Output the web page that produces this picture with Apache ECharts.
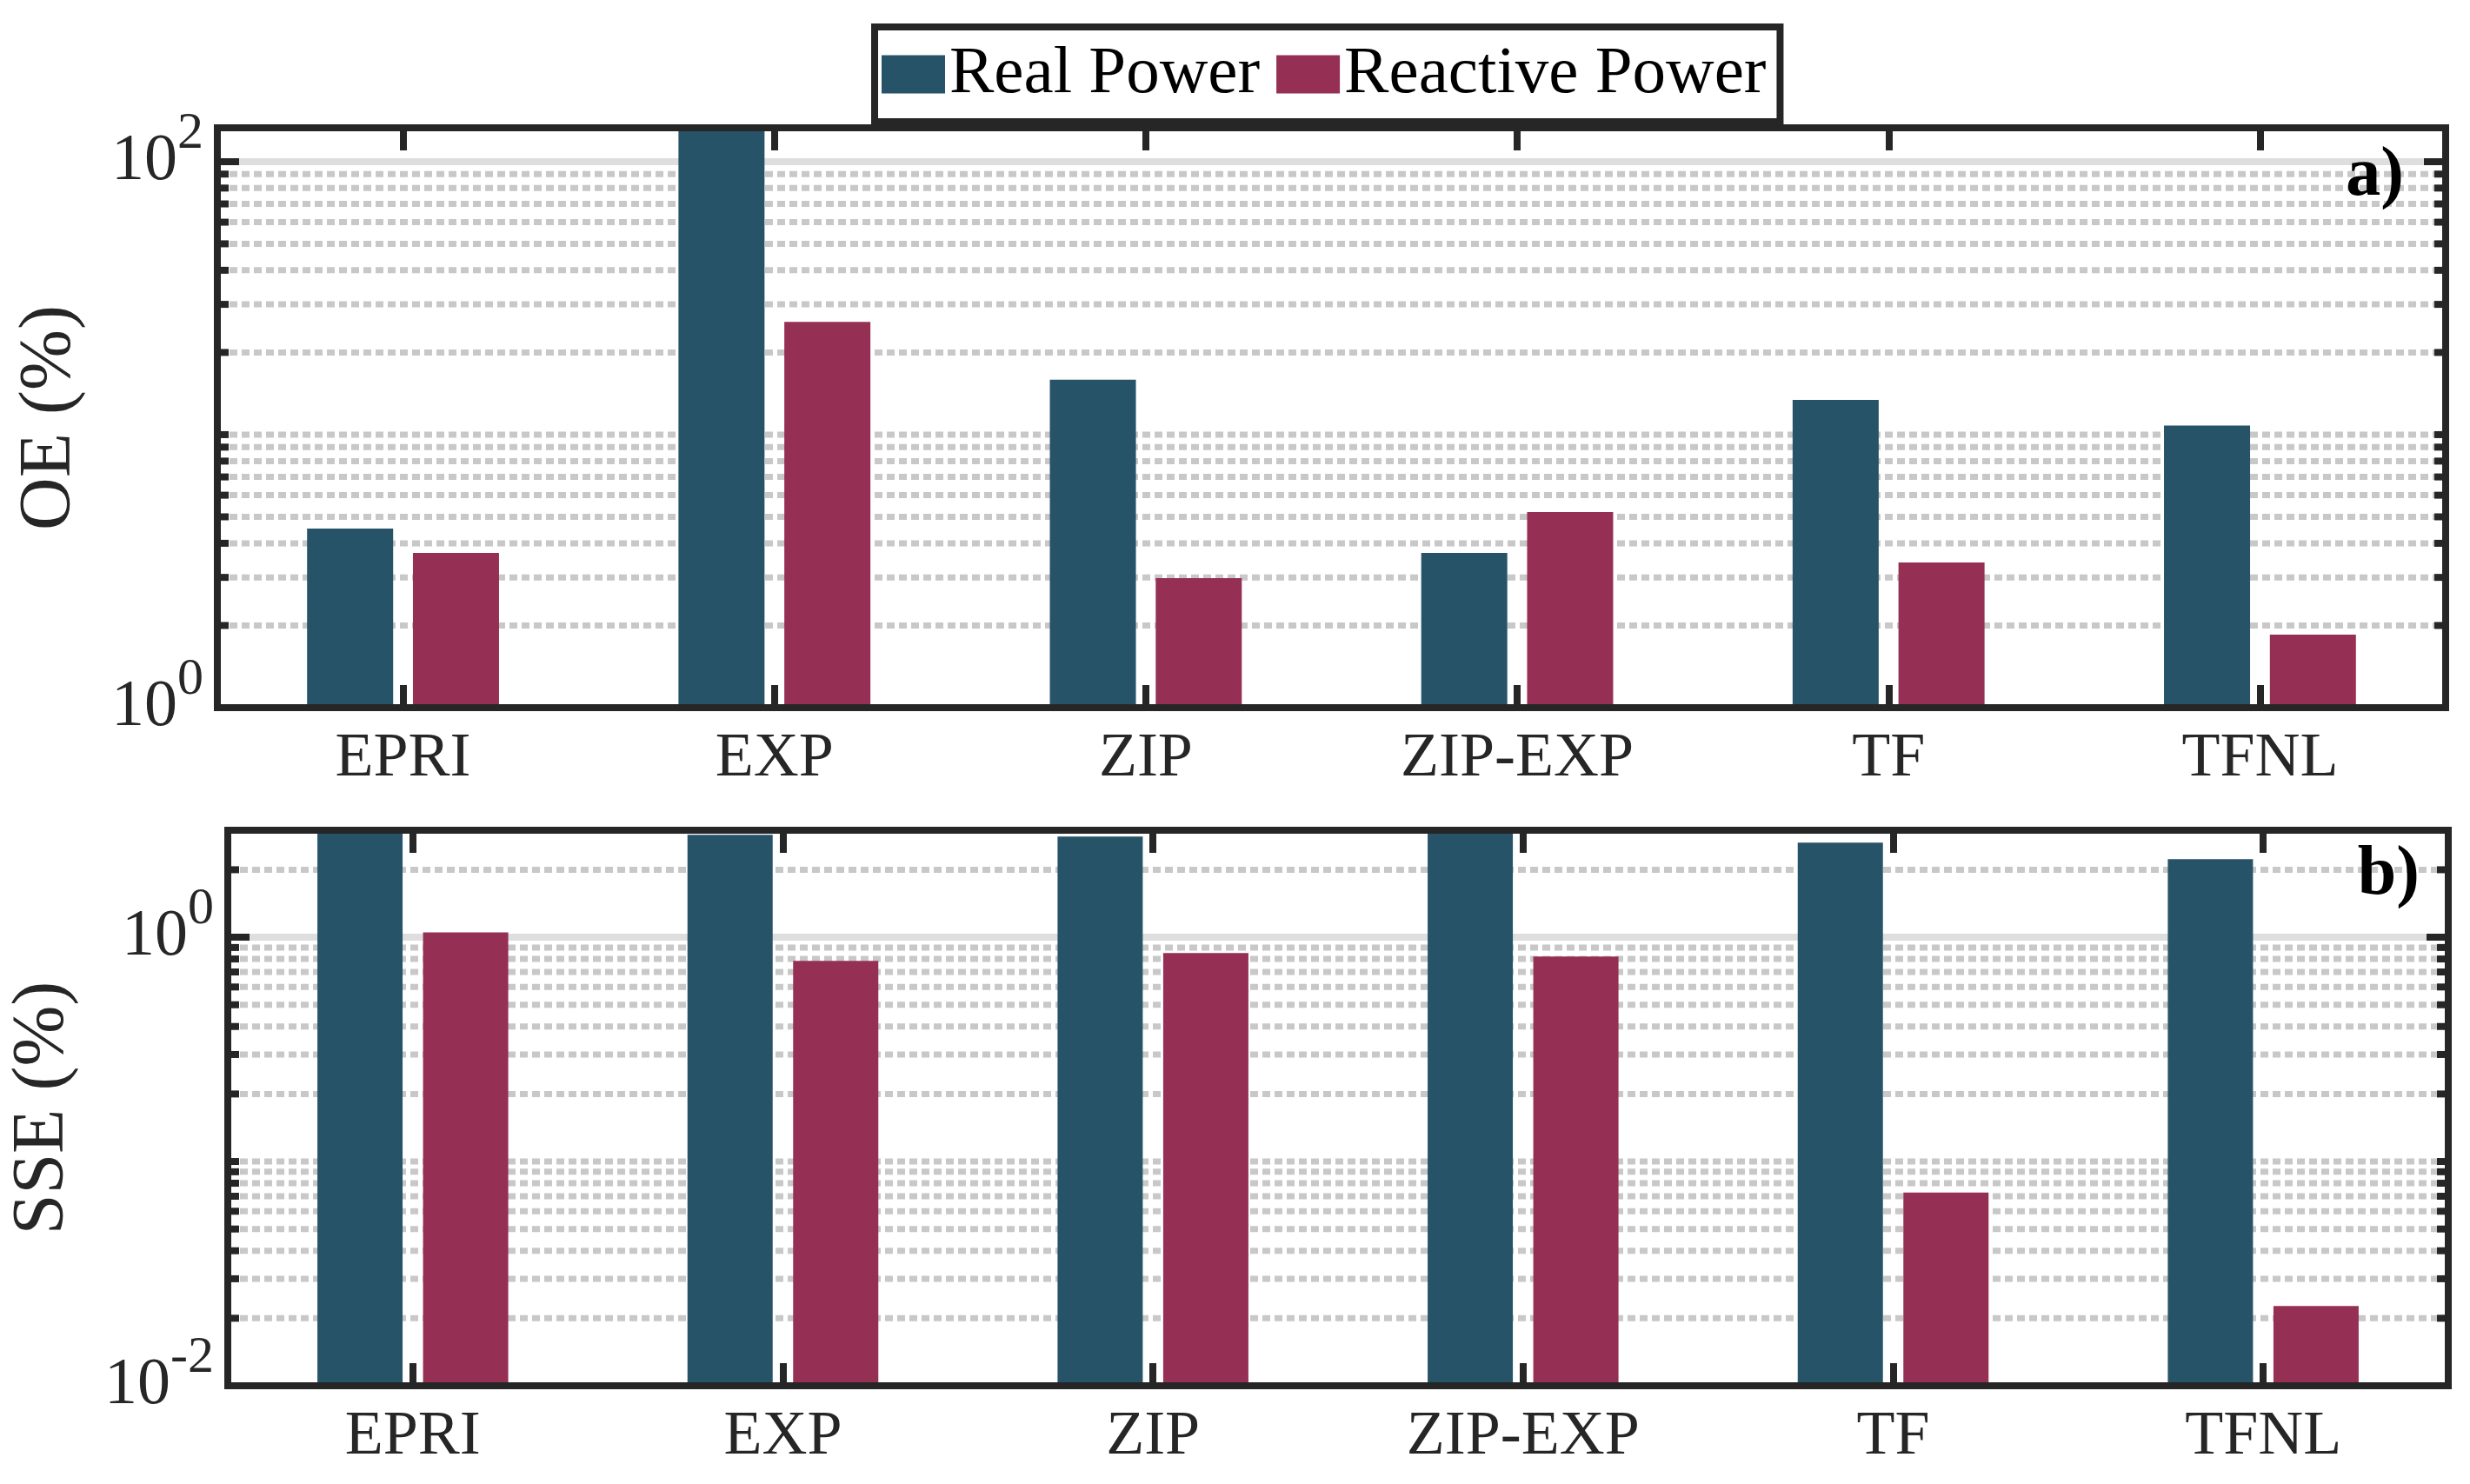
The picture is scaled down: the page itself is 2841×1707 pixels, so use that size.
<!DOCTYPE html>
<html>
<head>
<meta charset="utf-8">
<title>OE / SSE</title>
<script src="https://cdn.jsdelivr.net/npm/echarts@6/dist/echarts.min.js"></script>
<style>
  html, body { margin: 0; padding: 0; background: #fff; }
  #chart { width: 2841px; height: 1707px; }
</style>
</head>
<body>
<div id="chart"></div>
<script>
// 模型名称
const categories = ['EPRI', 'EXP', 'ZIP', 'ZIP-EXP', 'TF', 'TFNL'];
const seriesNames = ['Real Power', 'Reactive Power'];
// a) OE (%)
const oeReal = [4.53, 160, 15.9, 3.69, 13.4, 10.8];
const oeReactive = [3.69, 25.9, 2.98, 5.21, 3.40, 1.85];
// b) SSE (%)
const sseReal = [3.4, 2.86, 2.81, 3.4, 2.64, 2.23];
const sseReactive = [1.05, 0.785, 0.85, 0.82, 0.0727, 0.0227];
// 坐标范围
const oeRange = [1, 133];
const sseRange = [0.01, 3];
// 网格线（次网格为虚线）
const oeMinorGrid = [2, 3, 4, 5, 6, 7, 8, 9, 10, 20, 30, 40, 50, 60, 70, 80, 90];
const oeMajorGrid = [100];
const sseMinorGrid = [0.02, 0.03, 0.04, 0.05, 0.06, 0.07, 0.08, 0.09, 0.1,
  0.2, 0.3, 0.4, 0.5, 0.6, 0.7, 0.8, 0.9, 2];
const sseMajorGrid = [1];

const INK = '#262626';
const FONT = "'Liberation Serif', 'Times New Roman', serif";
const COLORS = ['#275369', '#953054'];

// 10^n 形式的刻度标签
function powerLabel(v) {
  const e = Math.log10(v);
  const r = Math.round(e);
  if (Math.abs(e - r) > 1e-6) return '';
  return '{b|10}{s|' + r + '}';
}

function catAxis(gridIndex, position) {
  const bottom = position === 'bottom';
  return {
    type: 'category', gridIndex: gridIndex, position: position, data: categories,
    axisLine: { show: true, lineStyle: { color: INK, width: 8, cap: 'square' } },
    axisTick: { show: true, inside: true, alignWithLabel: true, length: 26, lineStyle: { color: INK, width: 8 } },
    axisLabel: { show: bottom, margin: 23, fontFamily: FONT, fontSize: 72, color: INK },
    splitLine: { show: false },
    z: 10
  };
}

function logAxis(gridIndex, position, range, name, nameGap) {
  const left = position === 'left';
  return {
    type: 'log', logBase: 100, gridIndex: gridIndex, position: position,
    min: range[0], max: range[1], startValue: range[0],
    name: left ? name : '', nameLocation: 'middle', nameGap: nameGap,
    nameTextStyle: { fontFamily: FONT, fontSize: 84, color: INK },
    axisLine: { show: true, lineStyle: { color: INK, width: 8, cap: 'square' } },
    axisTick: { show: true, inside: true, length: 25, lineStyle: { color: INK, width: 8 } },
    axisLabel: {
      show: left, margin: 16, formatter: powerLabel,
      rich: {
        // 行高撑大，指数贴顶部对齐形成上标
        b: { fontFamily: FONT, fontSize: 76, lineHeight: 124, color: INK },
        s: { fontFamily: FONT, fontSize: 60, lineHeight: 60, verticalAlign: 'top', color: INK }
      }
    },
    splitLine: { show: false },
    minorTick: { show: false },
    z: 10
  };
}

// 网格线 + 次刻度，用自定义系列画
function gridRender(major) {
  return function (params, api) {
    const cs = params.coordSys;
    const y = api.coord([0, api.value(1)])[1];
    const children = [{
      type: 'line',
      shape: { x1: cs.x, y1: y, x2: cs.x + cs.width, y2: y },
      style: major
        ? { stroke: '#dedede', lineWidth: 8 }
        : { stroke: '#c8c8c8', lineWidth: 7, lineDash: [9, 5] }
    }];
    if (!major) {
      children.push({ type: 'line', shape: { x1: cs.x, y1: y, x2: cs.x + 13, y2: y }, style: { stroke: INK, lineWidth: 8 } });
      children.push({ type: 'line', shape: { x1: cs.x + cs.width - 13, y1: y, x2: cs.x + cs.width, y2: y }, style: { stroke: INK, lineWidth: 8 } });
    }
    return { type: 'group', children: children };
  };
}

function gridSeries(values, axisIndex, major) {
  return {
    type: 'custom', xAxisIndex: axisIndex, yAxisIndex: axisIndex, z: 1, silent: true,
    renderItem: gridRender(major),
    encode: { x: 0, y: 1 },
    data: values.map(function (v) { return [0, v]; })
  };
}

function barSeries(name, values, axisIndex, colorIndex, barWidth, barGap) {
  return {
    type: 'bar', name: name, xAxisIndex: axisIndex, yAxisIndex: axisIndex,
    data: values, barWidth: barWidth, barGap: barGap, z: 2,
    itemStyle: { color: COLORS[colorIndex] }, clip: true
  };
}

const chart = echarts.init(document.getElementById('chart'), null, { renderer: 'canvas' });

chart.setOption({
  backgroundColor: '#fff',
  animation: false,
  legend: {
    data: seriesNames, left: 1006, top: 31, icon: 'rect',
    itemWidth: 73, itemHeight: 44, itemGap: 19,
    padding: [16, 16, 16, 8], borderColor: INK, borderWidth: 8, backgroundColor: '#fff',
    textStyle: { fontFamily: FONT, fontSize: 77, color: '#000' },
    selectedMode: false
  },
  grid: [
    { left: 250, right: 28, top: 147, height: 667 },
    { left: 262, right: 25, top: 955, height: 639 }
  ],
  xAxis: [
    catAxis(0, 'bottom'), catAxis(0, 'top'),
    catAxis(1, 'bottom'), catAxis(1, 'top')
  ],
  yAxis: [
    logAxis(0, 'left', oeRange, 'OE (%)', 150), logAxis(0, 'right', oeRange),
    logAxis(1, 'left', sseRange, 'SSE (%)', 170), logAxis(1, 'right', sseRange)
  ],
  graphic: [
    { type: 'text', x: 2765, y: 203, z: 100, style: { text: 'a)', font: "bold 80px " + FONT, fill: '#000', textAlign: 'right', textVerticalAlign: 'middle' } },
    { type: 'text', x: 2783, y: 1007, z: 100, style: { text: 'b)', font: "bold 80px " + FONT, fill: '#000', textAlign: 'right', textVerticalAlign: 'middle' } }
  ],
  series: [
    gridSeries(oeMinorGrid, 0, false),
    gridSeries(oeMajorGrid, 0, true),
    barSeries(seriesNames[0], oeReal, 0, 0, 99, '23%'),
    barSeries(seriesNames[1], oeReactive, 0, 1, 99, '23%'),
    gridSeries(sseMinorGrid, 2, false),
    gridSeries(sseMajorGrid, 2, true),
    barSeries(seriesNames[0], sseReal, 2, 0, 98, '24%'),
    barSeries(seriesNames[1], sseReactive, 2, 1, 98, '24%')
  ]
});
</script>
</body>
</html>
